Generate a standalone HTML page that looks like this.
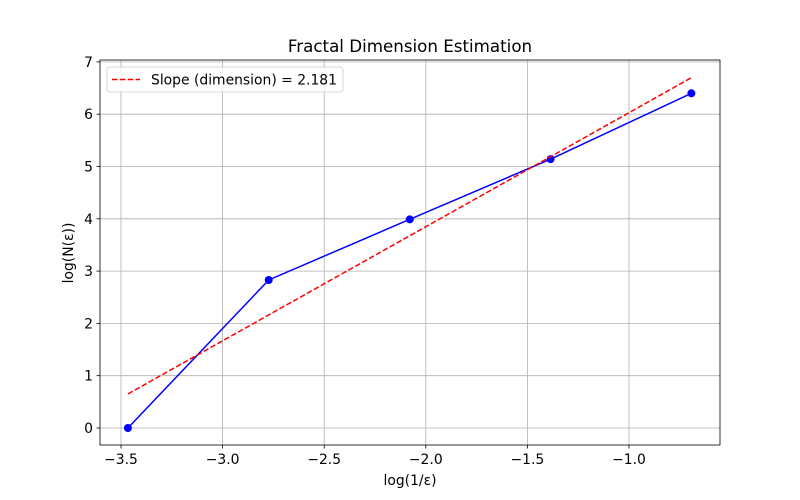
<!DOCTYPE html>
<html><head><meta charset="utf-8"><style>
body{margin:0;background:#fff;}
svg{display:block;font-family:"DejaVu Sans","Liberation Sans",sans-serif;}
</style></head><body>
<svg id="chart" width="800" height="500" viewBox="0 0 800 500"></svg>
<script>
const xVals = [-3.466, -2.773, -2.079, -1.386, -0.693];
const yVals = [0, 2.83, 3.99, 5.14, 6.40];
const fitSlope = [2.181];
const fitIntercept = [8.21];
const xTicks = [-3.5, -3.0, -2.5, -2.0, -1.5, -1.0];
const xTickLabels = ["\u22123.5","\u22123.0","\u22122.5","\u22122.0","\u22121.5","\u22121.0"];
const yTicks = [0,1,2,3,4,5,6,7];
const yTickLabels = ["0","1","2","3","4","5","6","7"];

const L=100,R=720,T=60,B=445;
const xs=v=>121+(v+3.5)*203.2;
const ys=v=>428-v*52.3;
const svg=document.getElementById('chart');
const NS='http://www.w3.org/2000/svg';
function mk(tag,attrs,parent){const e=document.createElementNS(NS,tag);for(const k in attrs)e.setAttribute(k,attrs[k]);(parent||svg).appendChild(e);return e;}

xTicks.forEach((t,i)=>{
  const g=mk('line',{x1:xs(t),x2:xs(t),y1:T,y2:B,stroke:'#b0b0b0','stroke-width':0.8});
  
  
  const tk=mk('line',{x1:xs(t),x2:xs(t),y1:B,y2:B+3.5,stroke:'#000','stroke-width':0.8});
  
  
  const tx=mk('text',{x:xs(t),y:B+19,'font-size':13.9,'text-anchor':'middle',fill:'#000'});
  tx.textContent=xTickLabels[i];
  
  
});
yTicks.forEach((t,i)=>{
  const g=mk('line',{x1:L,x2:R,y1:ys(t),y2:ys(t),stroke:'#b0b0b0','stroke-width':0.8});
  
  
  const tk=mk('line',{x1:L-3.5,x2:L,y1:ys(t),y2:ys(t),stroke:'#000','stroke-width':0.8});
  
  
  const tx=mk('text',{x:L-7,y:ys(t)+5,'font-size':13.9,'text-anchor':'end',fill:'#000'});
  tx.textContent=yTickLabels[i];
  
  
});

const pts=xVals.map((x,i)=>xs(x)+','+ys(yVals[i])).join(' ');
const pl=mk('polyline',{points:pts,fill:'none',stroke:'#0000ff','stroke-width':1.5});


xVals.forEach((x,i)=>{
  const c=mk('circle',{cx:xs(x),cy:ys(yVals[i]),r:4,fill:'#0000ff'});
  
  
});
const x0=xVals[0],x1=xVals[xVals.length-1];
const fl=mk('line',{x1:xs(x0),y1:ys(fitSlope[0]*x0+fitIntercept[0]),x2:xs(x1),y2:ys(fitSlope[0]*x1+fitIntercept[0]),stroke:'#ff0000','stroke-width':1.5,'stroke-dasharray':'5.5,2.4'});



const fr=mk('rect',{x:L,y:T,width:R-L,height:B-T,fill:'none',stroke:'#000','stroke-width':0.8});



const ti=mk('text',{x:410,y:52,'font-size':16.7,'text-anchor':'middle'});
ti.textContent='Fractal Dimension Estimation';


const xt=mk('text',{x:410,y:485,'font-size':13.9,'text-anchor':'middle'});
xt.textContent='log(1/\u03b5)';


const yt=mk('text',{x:73,y:253,'font-size':13.9,'text-anchor':'middle',transform:'rotate(-90 73 253)'});
yt.textContent='log(N(\u03b5))';



const lg=mk('g',{});


mk('rect',{x:107,y:67,width:236,height:25,rx:3,fill:'#fff','fill-opacity':0.8,stroke:'#cccccc','stroke-width':0.8},lg);
mk('line',{x1:112,x2:140,y1:79.5,y2:79.5,stroke:'#ff0000','stroke-width':1.5,'stroke-dasharray':'5.5,2.4'},lg);
const lt=mk('text',{x:151,y:84.5,'font-size':13.9},lg);
lt.textContent='Slope (dimension) = 2.181';


</script>
</body></html>
